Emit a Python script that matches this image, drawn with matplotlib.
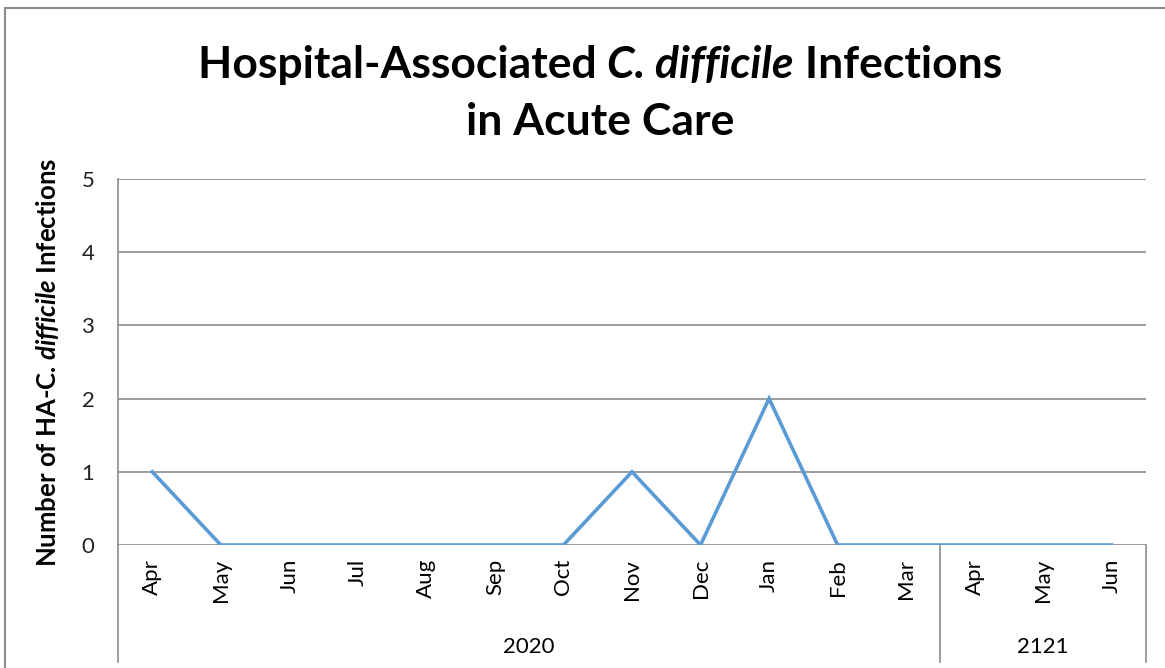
# HA C. difficile infections in acute care - monthly counts

import matplotlib
matplotlib.use("Agg")
import matplotlib.pyplot as plt
from matplotlib.patches import Rectangle
from matplotlib.lines import Line2D

plt.rcParams['font.family'] = 'Lato'
plt.rcParams['mathtext.fontset'] = 'custom'
plt.rcParams['mathtext.it'] = 'Lato:bold:italic'
plt.rcParams['mathtext.rm'] = 'Lato:bold'

months = ['Apr', 'May', 'Jun', 'Jul', 'Aug', 'Sep', 'Oct', 'Nov', 'Dec',
          'Jan', 'Feb', 'Mar', 'Apr', 'May', 'Jun']
infections = [1, 0, 0, 0, 0, 0, 0, 1, 0, 2, 0, 0, 0, 0, 0]
years = ['2020', '2121']
months_per_year = [12, 3]

fig = plt.figure(figsize=(11.65, 6.68), dpi=100)
ax = fig.add_axes([118/1165, 1 - 545/668, (1146-118)/1165, (545-179)/668])

x = list(range(len(months)))
ax.plot(x, infections, color='#5B9BD5', linewidth=2.6, solid_joinstyle='miter')

ax.set_xlim(-0.5, len(months) - 0.5)
ax.set_ylim(0, 5)
ax.set_yticks(range(6))
ax.tick_params(axis='y', length=0, labelsize=16, pad=17, labelcolor='#222222')
ax.set_xticks(x)
ax.set_xticklabels(months, rotation=90, fontsize=16)
ax.tick_params(axis='x', length=0, pad=10)
for lbl in ax.get_xticklabels():
    lbl.set_verticalalignment('top')

ax.grid(axis='y', color='#8C8C8C', linewidth=1.2)
ax.set_axisbelow(True)
for s in ['top', 'right', 'bottom']:
    ax.spines[s].set_visible(False)
ax.spines['left'].set_color('#8C8C8C')
ax.spines['left'].set_linewidth(1.2)

ax.set_ylabel(r'Number of HA-C. $\mathit{difficile}$ Infections',
              fontsize=18.5, fontweight='bold', labelpad=15)

# year group boxes under the month labels
edges = [-0.5]
for n in months_per_year:
    edges.append(edges[-1] + n)
y_bottom = -(662 - 545) / 73.2
for e in edges:
    ax.add_line(Line2D([e, e], [0, y_bottom], color='#8C8C8C', linewidth=1.2,
                       clip_on=False))
for i, yr in enumerate(years):
    ax.text((edges[i] + edges[i + 1]) / 2, -(647 - 545) / 73.2, yr,
            ha='center', va='center', fontsize=16)

# title: mixed bold / bold italic pieces, centred per line
renderer = fig.canvas.get_renderer()
def title_line(pieces, cx, base_y, size=32):
    texts = []
    for s, style in pieces:
        t = fig.text(0, 1 - base_y/668, s, fontsize=size, fontweight='bold',
                     fontstyle=style, va='baseline', ha='left')
        texts.append(t)
    widths = [t.get_window_extent(renderer).width for t in texts]
    xpos = cx - sum(widths) / 2
    for t, w in zip(texts, widths):
        t.set_x(xpos / 1165)
        xpos += w

title_line([('Hospital-Associated ', 'normal'), ('C. difficile', 'italic'),
            (' Infections', 'normal')], 600, 78)
title_line([('in Acute Care', 'normal')], 600, 135)

# chart border
fig.patches.append(Rectangle((5/1165, -0.1), 1.2, 1 - 8/668 + 0.1,
                             transform=fig.transFigure, fill=False,
                             edgecolor='#8C8C8C', linewidth=1.5))

fig.savefig('out.png', dpi=100)
